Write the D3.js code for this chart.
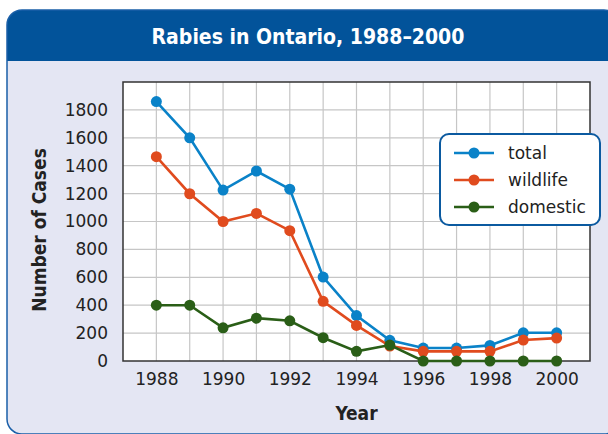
<!DOCTYPE html>
<html>
<head>
<meta charset="utf-8">
<script src="https://cdn.jsdelivr.net/npm/d3@7"></script>
<style>
  body { margin: 0; background: #fff; }
  svg { display: block; }
</style>
</head>
<body>
<div id="chart"></div>
<script>
// data
const years = [1988, 1989, 1990, 1991, 1992, 1993, 1994, 1995, 1996, 1997, 1998, 1999, 2000];
const total = [1860, 1600, 1225, 1362, 1232, 602, 326, 148, 93, 93, 112, 202, 202];
const wildlife = [1465, 1199, 1000, 1058, 934, 428, 255, 107, 69, 69, 69, 150, 164];
const domestic = [400, 400, 238, 307, 288, 167, 69, 114, 0, 0, 0, 0, 0];
const seriesNames = ["total", "wildlife", "domestic"];
const seriesColors = ["#0a82c8", "#e04b1e", "#2a5e17"];
const yTicks = [0, 200, 400, 600, 800, 1000, 1200, 1400, 1600, 1800];
const xTicks = [1988, 1990, 1992, 1994, 1996, 1998, 2000];

const width = 608, height = 434;
const svg = d3.select("#chart").append("svg")
    .attr("width", width)
    .attr("height", height);

// panel + header
svg.append("clipPath").attr("id", "panelClip")
    .append("rect")
    .attr("x", 7).attr("y", 10).attr("width", 612).attr("height", 424).attr("rx", 15);

svg.append("rect")
    .attr("x", 7).attr("y", 10).attr("width", 612).attr("height", 424).attr("rx", 15)
    .attr("fill", "#e4e6f3");

svg.append("rect")
    .attr("clip-path", "url(#panelClip)")
    .attr("x", 7).attr("y", 10).attr("width", 612).attr("height", 51)
    .attr("fill", "#02539a");

svg.append("rect")
    .attr("x", 7).attr("y", 10).attr("width", 612).attr("height", 424).attr("rx", 15)
    .attr("fill", "none")
    .attr("stroke", "#1a5fa8")
    .attr("stroke-width", 1.5);

svg.append("text")
    .attr("x", 308)
    .attr("y", 44)
    .attr("text-anchor", "middle")
    .attr("fill", "#fff")
    .style("font-family", "'DejaVu Sans Condensed', 'DejaVu Sans', sans-serif")
    .style("font-weight", "bold")
    .style("font-size", "21px")
    .text("Rabies in Ontario, 1988–2000");

// plot area
const plotLeft = 123, plotRight = 590, plotTop = 82, plotBottom = 361;

const xScale = d3.scaleLinear()
    .domain([1987, 2001])
    .range([plotLeft, plotRight]);

const yScale = d3.scaleLinear()
    .domain([0, 2000])
    .range([plotBottom, plotTop]);

svg.append("rect")
    .attr("x", plotLeft).attr("y", plotTop)
    .attr("width", plotRight - plotLeft).attr("height", plotBottom - plotTop)
    .attr("fill", "#fff");

// grid lines
svg.append("g")
    .selectAll("line")
    .data(d3.range(1988, 2001))
    .enter()
    .append("line")
    .attr("x1", (d) => xScale(d)).attr("x2", (d) => xScale(d))
    .attr("y1", plotTop).attr("y2", plotBottom)
    .attr("stroke", "#c6c6c6")
    .attr("stroke-width", 1.2);

svg.append("g")
    .selectAll("line")
    .data(yTicks.slice(1))
    .enter()
    .append("line")
    .attr("x1", plotLeft).attr("x2", plotRight)
    .attr("y1", (d) => yScale(d)).attr("y2", (d) => yScale(d))
    .attr("stroke", "#c6c6c6")
    .attr("stroke-width", 1.2);

svg.append("rect")
    .attr("x", plotLeft).attr("y", plotTop)
    .attr("width", plotRight - plotLeft).attr("height", plotBottom - plotTop)
    .attr("fill", "none")
    .attr("stroke", "#333")
    .attr("stroke-width", 1.5);

// axes
const tickFont = "'DejaVu Sans', sans-serif";

const yAxis = d3.axisLeft(yScale).tickValues(yTicks).tickFormat(d3.format("d")).tickSize(0).tickPadding(15);
const gy = svg.append("g")
    .attr("transform", `translate(${plotLeft}, 0)`)
    .call(yAxis);
gy.select(".domain").remove();
gy.selectAll("text")
    .style("font-family", tickFont)
    .style("font-size", "17px")
    .attr("fill", "#222");

const xAxis = d3.axisBottom(xScale).tickValues(xTicks).tickFormat(d3.format("d")).tickSize(0).tickPadding(12);
const gx = svg.append("g")
    .attr("transform", `translate(0, ${plotBottom})`)
    .call(xAxis);
gx.select(".domain").remove();
gx.selectAll("text")
    .style("font-family", tickFont)
    .style("font-size", "17px")
    .attr("fill", "#222");

svg.append("text")
    .attr("x", (plotLeft + plotRight) / 2)
    .attr("y", 420)
    .attr("text-anchor", "middle")
    .attr("fill", "#222")
    .style("font-family", "'DejaVu Sans Condensed', 'DejaVu Sans', sans-serif")
    .style("font-weight", "bold")
    .style("font-size", "19px")
    .text("Year");

svg.append("text")
    .attr("transform", "translate(46, 230) rotate(-90)")
    .attr("text-anchor", "middle")
    .attr("fill", "#222")
    .style("font-family", "'DejaVu Sans Condensed', 'DejaVu Sans', sans-serif")
    .style("font-weight", "bold")
    .style("font-size", "19px")
    .text("Number of Cases");

// lines + markers
const seriesData = [total, wildlife, domestic];
const line = d3.line()
    .x((d, i) => xScale(years[i]))
    .y((d) => yScale(d));

seriesData.forEach((vals, s) => {
    svg.append("path")
        .datum(vals)
        .attr("d", line)
        .attr("fill", "none")
        .attr("stroke", seriesColors[s])
        .attr("stroke-width", 2.6);
    svg.append("g")
        .selectAll("circle")
        .data(vals)
        .enter()
        .append("circle")
        .attr("cx", (d, i) => xScale(years[i]))
        .attr("cy", (d) => yScale(d))
        .attr("r", 5.5)
        .attr("fill", seriesColors[s]);
});

// legend
const legend = svg.append("g");
legend.append("rect")
    .attr("x", 440).attr("y", 134)
    .attr("width", 160).attr("height", 91)
    .attr("rx", 9)
    .attr("fill", "#fff")
    .attr("stroke", "#0b5aa0")
    .attr("stroke-width", 2);

seriesNames.forEach((name, i) => {
    const y = 153 + i * 27;
    legend.append("line")
        .attr("x1", 454).attr("x2", 494)
        .attr("y1", y).attr("y2", y)
        .attr("stroke", seriesColors[i])
        .attr("stroke-width", 2.6);
    legend.append("circle")
        .attr("cx", 474).attr("cy", y).attr("r", 5.5)
        .attr("fill", seriesColors[i]);
    legend.append("text")
        .attr("x", 508).attr("y", y)
        .attr("dy", "0.35em")
        .attr("fill", "#222")
        .style("font-family", tickFont)
        .style("font-size", "17px")
        .text(name);
});
</script>
</body>
</html>
